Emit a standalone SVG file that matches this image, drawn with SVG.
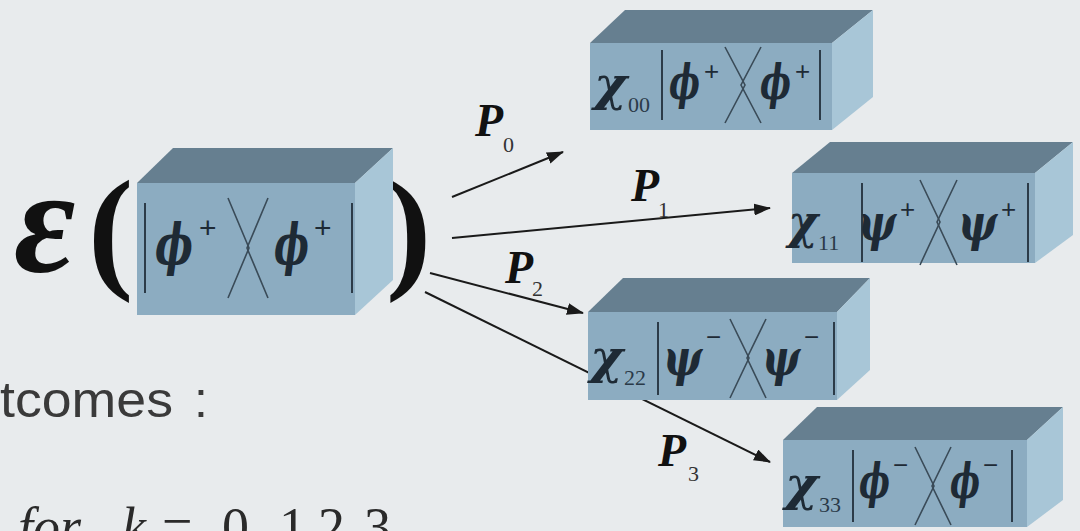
<svg xmlns="http://www.w3.org/2000/svg" width="1080" height="531" viewBox="0 0 1080 531">
<style>
.top{fill:#667f90}
.front{fill:#8cacc1}
.side{fill:#a8c6d7}
.rule{stroke:#2c3b48;stroke-width:2;fill:none}
.brk{stroke:#3a4b58;stroke-width:1.6;fill:none}
.gr{font-family:"DejaVu Serif","Liberation Serif",serif;font-weight:bold;font-style:italic;fill:#1e2a35}
.chi{font-family:"DejaVu Serif","Liberation Serif",serif;font-weight:bold;font-style:italic;fill:#1e2a35;font-size:46px}
.sub{font-family:"Liberation Serif",serif;fill:#2a3a48;font-size:22px}
.sup{font-family:"Liberation Sans",sans-serif;fill:#1e2a35}
.arr{stroke:#1a1a1a;stroke-width:2;fill:none;marker-end:url(#ah)}
.pl{font-family:"Liberation Serif",serif;font-weight:bold;font-style:italic;fill:#111;font-size:46px}
.ps{font-family:"Liberation Serif",serif;fill:#333;font-size:22px}
</style>
<defs>
<marker id="ah" markerUnits="userSpaceOnUse" markerWidth="18" markerHeight="12" refX="16" refY="6" orient="auto">
<path d="M0,0 L17,6 L0,12 Z" fill="#1a1a1a"/>
</marker>
</defs>
<rect width="1080" height="531" fill="#e8ebed"/>

<g id="connectors">
<line class="arr" x1="452" y1="197" x2="563" y2="152"/>
<line class="arr" x1="452" y1="238" x2="770" y2="208"/>
<line class="arr" x1="430" y1="273" x2="583" y2="313"/>
<line class="arr" x1="425" y1="292" x2="770" y2="462"/>
<text class="pl" x="475" y="136">P</text><text class="ps" x="503" y="152">0</text>
<text class="pl" x="631" y="201">P</text><text class="ps" x="658" y="217">1</text>
<text class="pl" x="505" y="283">P</text><text class="ps" x="532" y="296">2</text>
<text class="pl" x="658" y="466">P</text><text class="ps" x="688" y="481">3</text>
</g>

<g id="input">
<text x="14" y="272" font-family="Liberation Serif, serif" font-weight="bold" font-style="italic" font-size="150" fill="#111">ε</text>
<text x="88" y="274" font-family="Liberation Serif, serif" font-weight="bold" font-size="136" fill="#111">(</text>
<text x="386" y="274" font-family="Liberation Serif, serif" font-weight="bold" font-size="136" fill="#111">)</text>
<polygon class="top" points="137,183 173,148 393,148 355,183"/>
<rect class="front" x="137" y="183" width="218" height="132"/>
<polygon class="side" points="355,183 393,148 393,280 355,315"/>
<line class="rule" x1="145" y1="203" x2="145" y2="293"/>
<line class="rule" x1="352" y1="203" x2="352" y2="293"/>
<polyline class="brk" points="228,198 249,248 228,298"/>
<polyline class="brk" points="268,198 247,248 268,298"/>
<text class="gr" x="155" y="264" font-size="56" textLength="38" lengthAdjust="spacingAndGlyphs">ϕ</text>
<text class="sup" x="199" y="238" font-size="30">+</text>
<text class="gr" x="274" y="264" font-size="56" textLength="35" lengthAdjust="spacingAndGlyphs">ϕ</text>
<text class="sup" x="314" y="238" font-size="30">+</text>
</g>

<g id="out0">
<polygon class="top" points="590,43 625,10 873,10 832,43"/>
<rect class="front" x="590" y="43" width="242" height="87"/>
<polygon class="side" points="832,43 873,10 873,97 832,130"/>
<text class="chi" x="594" y="100" textLength="33" lengthAdjust="spacingAndGlyphs">χ</text>
<text class="sub" x="628" y="112">00</text>
<line class="rule" x1="662" y1="50" x2="662" y2="120"/>
<line class="rule" x1="820" y1="50" x2="820" y2="120"/>
<polyline class="brk" points="725,47 745,85 725,123"/>
<polyline class="brk" points="761,47 741,85 761,123"/>
<text class="gr" x="669" y="99" font-size="48" textLength="31" lengthAdjust="spacingAndGlyphs">ϕ</text>
<text class="sup" x="704" y="80" font-size="26">+</text>
<text class="gr" x="760" y="99" font-size="48" textLength="31" lengthAdjust="spacingAndGlyphs">ϕ</text>
<text class="sup" x="795" y="80" font-size="26">+</text>
</g>

<g id="out1">
<polygon class="top" points="792,173 830,142 1073,142 1035,173"/>
<rect class="front" x="792" y="173" width="243" height="90"/>
<polygon class="side" points="1035,173 1073,142 1073,235 1035,263"/>
<text class="chi" x="788" y="238" textLength="30" lengthAdjust="spacingAndGlyphs">χ</text>
<text class="sub" x="818" y="250">11</text>
<line class="rule" x1="862" y1="183" x2="862" y2="262"/>
<line class="rule" x1="1028" y1="183" x2="1028" y2="262"/>
<polyline class="brk" points="920,180 940,222 920,265"/>
<polyline class="brk" points="957,180 937,222 957,265"/>
<text class="gr" x="858" y="240" font-size="50" textLength="38" lengthAdjust="spacingAndGlyphs">ψ</text>
<text class="sup" x="900" y="218" font-size="26">+</text>
<text class="gr" x="958" y="240" font-size="50" textLength="39" lengthAdjust="spacingAndGlyphs">ψ</text>
<text class="sup" x="1001" y="218" font-size="26">+</text>
</g>

<g id="out2">
<polygon class="top" points="588,312 623,278 870,278 837,312"/>
<rect class="front" x="588" y="312" width="249" height="88"/>
<polygon class="side" points="837,312 870,278 870,370 837,400"/>
<text class="chi" x="590" y="373" textLength="33" lengthAdjust="spacingAndGlyphs">χ</text>
<text class="sub" x="624" y="385">22</text>
<line class="rule" x1="658" y1="322" x2="658" y2="395"/>
<line class="rule" x1="834" y1="322" x2="834" y2="395"/>
<polyline class="brk" points="730,319 749,358 730,398"/>
<polyline class="brk" points="766,319 747,358 766,398"/>
<text class="gr" x="663" y="375" font-size="50" textLength="39" lengthAdjust="spacingAndGlyphs">ψ</text>
<text class="sup" x="706" y="346" font-size="26">−</text>
<text class="gr" x="762" y="375" font-size="50" textLength="38" lengthAdjust="spacingAndGlyphs">ψ</text>
<text class="sup" x="804" y="346" font-size="26">−</text>
</g>

<g id="out3">
<polygon class="top" points="783,440 817,407 1063,407 1027,440"/>
<rect class="front" x="783" y="440" width="244" height="87"/>
<polygon class="side" points="1027,440 1063,407 1063,500 1027,527"/>
<text class="chi" x="785" y="500" textLength="33" lengthAdjust="spacingAndGlyphs">χ</text>
<text class="sub" x="819" y="512">33</text>
<line class="rule" x1="853" y1="450" x2="853" y2="522"/>
<line class="rule" x1="1012" y1="450" x2="1012" y2="522"/>
<polyline class="brk" points="915,447 934,486 915,525"/>
<polyline class="brk" points="951,447 932,486 951,525"/>
<text class="gr" x="859" y="498" font-size="48" textLength="31" lengthAdjust="spacingAndGlyphs">ϕ</text>
<text class="sup" x="893" y="474" font-size="26">−</text>
<text class="gr" x="950" y="498" font-size="48" textLength="30" lengthAdjust="spacingAndGlyphs">ϕ</text>
<text class="sup" x="983" y="474" font-size="26">−</text>
</g>

<g id="caption">
<text x="0" y="417" font-family="Liberation Sans, sans-serif" font-size="50" fill="#3a3a3a"><tspan textLength="173" lengthAdjust="spacingAndGlyphs">tcomes</tspan><tspan x="194">:</tspan></text>
<text y="545" font-family="Liberation Serif, serif" font-size="54" fill="#2a2a2a"><tspan x="18" font-style="italic">for</tspan><tspan x="122" font-style="italic">k</tspan><tspan x="162">=</tspan><tspan x="222">0,</tspan><tspan x="279">1,</tspan><tspan x="318">2,</tspan><tspan x="364">3</tspan></text>
</g>
</svg>
